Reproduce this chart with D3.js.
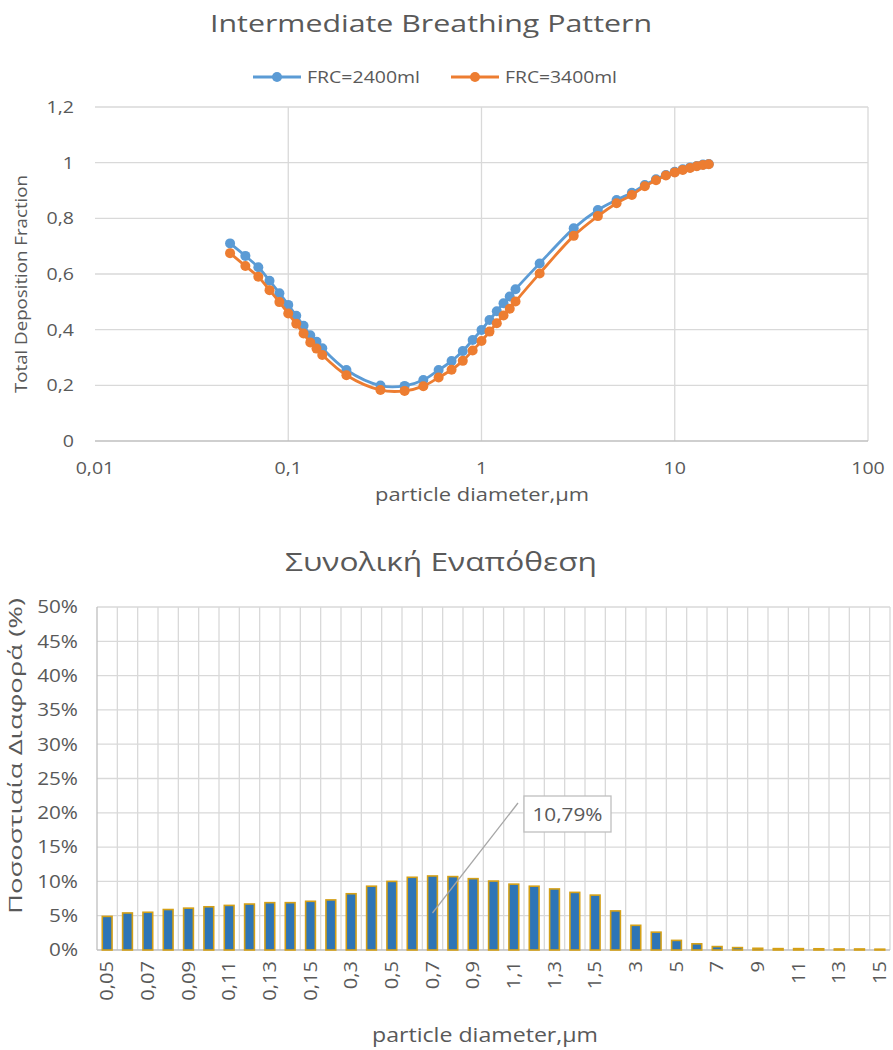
<!DOCTYPE html>
<html><head><meta charset="utf-8">
<script src="https://cdn.jsdelivr.net/npm/d3@7"></script>
<style>
body{margin:0;background:#fff}
svg text{font-family:"Open Sans","Noto Sans",sans-serif;fill:#595959}
</style>
</head><body>
<svg id="chart" width="893" height="1050"></svg>
<script>
// Particle diameters (µm) shared by both charts
const diameters = [0.05,0.06,0.07,0.08,0.09,0.10,0.11,0.12,0.13,0.14,0.15,0.2,0.3,0.4,0.5,0.6,0.7,0.8,0.9,1,1.1,1.2,1.3,1.4,1.5,2,3,4,5,6,7,8,9,10,11,12,13,14,15];
const categoryLabels = ["0,05","0,06","0,07","0,08","0,09","0,1","0,11","0,12","0,13","0,14","0,15","0,2","0,3","0,4","0,5","0,6","0,7","0,8","0,9","1","1,1","1,2","1,3","1,4","1,5","2","3","4","5","6","7","8","9","10","11","12","13","14","15"];

// Total deposition fraction, FRC = 2400 ml
const frc2400 = [0.710,0.665,0.624,0.576,0.531,0.489,0.450,0.414,0.380,0.357,0.333,0.255,0.199,0.198,0.219,0.255,0.287,0.323,0.363,0.399,0.435,0.466,0.495,0.519,0.545,0.638,0.764,0.830,0.866,0.892,0.920,0.940,0.956,0.967,0.976,0.983,0.988,0.993,0.995];
// Total deposition fraction, FRC = 3400 ml
const frc3400 = [0.675,0.629,0.590,0.542,0.499,0.458,0.421,0.386,0.354,0.332,0.309,0.236,0.183,0.180,0.197,0.228,0.256,0.288,0.325,0.359,0.393,0.423,0.451,0.475,0.501,0.602,0.737,0.808,0.854,0.884,0.915,0.937,0.954,0.965,0.974,0.981,0.987,0.992,0.994];
// Percentage difference between the two (%)
const diffPct = [4.9,5.4,5.5,5.9,6.1,6.3,6.5,6.7,6.9,6.9,7.1,7.3,8.2,9.3,10.0,10.6,10.79,10.7,10.4,10.05,9.6,9.3,8.9,8.4,8.0,5.7,3.6,2.6,1.4,0.9,0.5,0.35,0.25,0.2,0.2,0.18,0.15,0.15,0.12];

const seriesNames = ["FRC=2400ml","FRC=3400ml"];
const topYTicks = [0,0.2,0.4,0.6,0.8,1,1.2];
const topYLabels = ["0","0,2","0,4","0,6","0,8","1","1,2"];
const topXTicks = [0.01,0.1,1,10,100];
const topXLabels = ["0,01","0,1","1","10","100"];
const botYTicks = [0,5,10,15,20,25,30,35,40,45,50];
const botYLabels = ["0%","5%","10%","15%","20%","25%","30%","35%","40%","45%","50%"];
const calloutIndex = 16;

const BLUE = "#5b9bd5", ORANGE = "#ed7d31", GRID = "#d9d9d9", AXIS = "#bfbfbf";
const svg = d3.select("#chart");

// ---------- Top chart: deposition fraction vs diameter ----------
const topG = svg.append("g");
const x = d3.scaleLog().domain([0.01,100]).range([95,868]);
const y = d3.scaleLinear().domain([0,1.2]).range([441,107]);

topG.append("g").selectAll("line").data(topYTicks.filter(d=>d>0)).join("line")
  .attr("x1",x.range()[0]).attr("x2",x.range()[1])
  .attr("y1",d=>y(d)).attr("y2",d=>y(d)).attr("stroke",GRID).attr("stroke-width",1.3);
topG.append("g").selectAll("line").data(topXTicks.slice(1)).join("line")
  .attr("x1",d=>x(d)).attr("x2",d=>x(d))
  .attr("y1",y.range()[1]).attr("y2",y.range()[0]).attr("stroke",GRID).attr("stroke-width",1.3);
topG.append("line").attr("x1",x.range()[0]).attr("x2",x.range()[1])
  .attr("y1",y(0)).attr("y2",y(0)).attr("stroke",AXIS).attr("stroke-width",1.3);

topG.append("g").selectAll("text").data(topYTicks).join("text")
  .attr("class","sx").attr("x",74).attr("y",d=>y(d)).attr("dy","0.35em")
  .attr("text-anchor","end").attr("font-size",17).text((d,i)=>topYLabels[i]);
topG.append("g").selectAll("text").data(topXTicks).join("text")
  .attr("class","sx").attr("x",d=>x(d)).attr("y",474)
  .attr("text-anchor","middle").attr("font-size",17).text((d,i)=>topXLabels[i]);

const line = d3.line().x((d,i)=>x(diameters[i])).y(d=>y(d)).curve(d3.curveCatmullRom);
[[frc2400,BLUE],[frc3400,ORANGE]].forEach(([vals,col])=>{
  topG.append("path").attr("d",line(vals)).attr("fill","none")
    .attr("stroke",col).attr("stroke-width",2.8);
  topG.append("g").selectAll("circle").data(vals).join("circle")
    .attr("cx",(d,i)=>x(diameters[i])).attr("cy",d=>y(d)).attr("r",5).attr("fill",col);
});

topG.append("text").attr("x",431).attr("y",32).attr("text-anchor","middle")
  .attr("font-size",23).attr("data-w",442).text("Intermediate Breathing Pattern");
topG.append("text").attr("x",482).attr("y",501).attr("text-anchor","middle")
  .attr("font-size",18).attr("data-w",214).text("particle diameter,\u03bcm");
topG.append("text").attr("transform","translate(27,284) rotate(-90)").attr("text-anchor","middle")
  .attr("font-size",16).attr("data-w",218).text("Total Deposition Fraction");

// legend
const legend = [{name:seriesNames[0],col:BLUE,x0:253,tw:113},{name:seriesNames[1],col:ORANGE,x0:451,tw:112}];
legend.forEach(l=>{
  topG.append("line").attr("x1",l.x0).attr("x2",l.x0+48).attr("y1",77).attr("y2",77)
    .attr("stroke",l.col).attr("stroke-width",2.8);
  topG.append("circle").attr("cx",l.x0+24).attr("cy",77).attr("r",5).attr("fill",l.col);
  topG.append("text").attr("x",l.x0+54).attr("y",77).attr("dy","0.35em")
    .attr("font-size",17).attr("data-w",l.tw).text(l.name);
});

// ---------- Bottom chart: percentage difference ----------
const botG = svg.append("g");
const xb = d3.scaleBand().domain(d3.range(diameters.length)).range([97,890]);
const yb = d3.scaleLinear().domain([0,50]).range([950,607]);
const bw = xb.bandwidth();

botG.append("g").selectAll("line").data(botYTicks.filter(d=>d>0)).join("line")
  .attr("x1",xb.range()[0]).attr("x2",xb.range()[1])
  .attr("y1",d=>yb(d)).attr("y2",d=>yb(d)).attr("stroke",GRID).attr("stroke-width",1.3);
botG.append("g").selectAll("line").data(d3.range(diameters.length+1)).join("line")
  .attr("x1",i=>xb.range()[0]+i*bw).attr("x2",i=>xb.range()[0]+i*bw)
  .attr("y1",yb(50)).attr("y2",yb(0)).attr("stroke",(i)=>i===0?AXIS:GRID).attr("stroke-width",1.3);
botG.append("line").attr("x1",xb.range()[0]).attr("x2",xb.range()[1])
  .attr("y1",yb(0)).attr("y2",yb(0)).attr("stroke",AXIS).attr("stroke-width",1.3);

botG.append("g").selectAll("rect").data(diffPct).join("rect")
  .attr("x",(d,i)=>xb(i)+bw*0.26).attr("width",bw*0.48)
  .attr("y",d=>yb(d)).attr("height",d=>yb(0)-yb(d))
  .attr("fill","#2e75b6").attr("stroke","#d4a017").attr("stroke-width",1.6);

botG.append("g").selectAll("text").data(botYTicks).join("text")
  .attr("class","sx").attr("x",78).attr("y",d=>yb(d)).attr("dy","0.35em")
  .attr("text-anchor","end").attr("font-size",18).text((d,i)=>botYLabels[i]);
botG.append("g").selectAll("text").data(d3.range(0,diameters.length,2)).join("text")
  .attr("class","sl")
  .attr("transform",i=>`translate(${xb(i)+bw/2},961) rotate(-90)`)
  .attr("dy","0.35em").attr("text-anchor","end").attr("font-size",18)
  .text(i=>categoryLabels[i]);

botG.append("text").attr("x",441).attr("y",571).attr("text-anchor","middle")
  .attr("font-size",26).attr("data-w",312).text("\u03a3\u03c5\u03bd\u03bf\u03bb\u03b9\u03ba\u03ae \u0395\u03bd\u03b1\u03c0\u03cc\u03b8\u03b5\u03c3\u03b7");
botG.append("text").attr("x",485).attr("y",1042).attr("text-anchor","middle")
  .attr("font-size",20).attr("data-w",226).text("particle diameter,\u03bcm");
botG.append("text").attr("transform","translate(22,756) rotate(-90)").attr("text-anchor","middle")
  .attr("font-size",19).attr("data-w",316).text("\u03a0\u03bf\u03c3\u03bf\u03c3\u03c4\u03b9\u03b1\u03af\u03b1 \u0394\u03b9\u03b1\u03c6\u03bf\u03c1\u03ac (%)");

// data callout on the peak bar
const cv = diffPct[calloutIndex];
const cx = xb(calloutIndex)+bw/2;
botG.append("line").attr("x1",cx).attr("y1",yb(cv/2)).attr("x2",518).attr("y2",803)
  .attr("stroke","#a6a6a6").attr("stroke-width",1.3);
botG.append("rect").attr("x",524).attr("y",796).attr("width",87).attr("height",36)
  .attr("fill","#fff").attr("stroke","#bfbfbf").attr("stroke-width",1.3);
botG.append("text").attr("x",567.5).attr("y",814).attr("dy","0.35em").attr("text-anchor","middle")
  .attr("font-size",19).attr("data-w",70).text(String(cv).replace(".",",")+"%");

// widen glyphs to the chart's text proportions
svg.selectAll("text").each(function(){
  const t = d3.select(this);
  const w = t.attr("data-w");
  const n = this.getComputedTextLength();
  let target = null;
  if (w) target = +w;
  else if (t.classed("sx")) target = n*1.15;
  else if (t.classed("sl")) target = n*1.12;
  if (target) t.attr("textLength",target).attr("lengthAdjust","spacingAndGlyphs");
});
</script>
</body></html>
